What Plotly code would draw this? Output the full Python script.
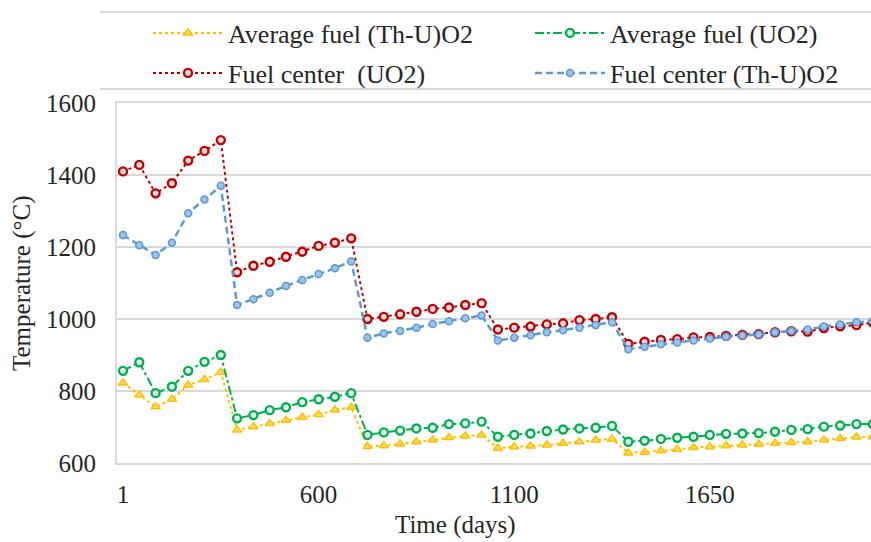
import plotly.graph_objects as go

# ---- data ----
step_index = list(range(47))
tick_positions = [0, 12, 24, 36]
tick_labels = ["1", "600", "1100", "1650"]

avg_thu = [822, 789, 756, 777, 817, 832, 852,
           692, 701, 710, 719, 727, 735, 747, 755,
           646, 648, 653, 659, 664, 671, 675, 678,
           641, 645, 647, 650, 655, 659, 664, 667,
           628, 630, 634, 638, 643, 645, 648, 650, 652, 655, 657, 659, 664, 668, 672, 673]
avg_uo2 = [856, 880, 794, 812, 856, 881, 900,
           724, 733, 747, 755, 769, 777, 784, 794,
           678, 685, 690, 696, 698, 708, 710, 715,
           673, 678, 682, 689, 693, 696, 698, 703,
           659, 662, 667, 670, 673, 678, 681, 682, 683, 687, 692, 694, 701, 704, 708, 708]
center_uo2 = [1410, 1428, 1349, 1377, 1440, 1467, 1497,
              1130, 1148, 1159, 1173, 1187, 1203, 1212, 1224,
              1000, 1006, 1013, 1020, 1028, 1032, 1039, 1044,
              971, 976, 979, 985, 988, 997, 1000, 1005,
              931, 937, 942, 944, 949, 950, 953, 956, 958, 963, 966, 965, 975, 980, 983, 990]
center_thu = [1233, 1205, 1178, 1212, 1294, 1332, 1370,
              1039, 1055, 1073, 1092, 1108, 1125, 1141, 1160,
              948, 960, 967, 976, 986, 994, 1002, 1010,
              940, 948, 955, 963, 969, 976, 983, 991,
              916, 923, 930, 935, 940, 946, 951, 954, 957, 963, 967, 971, 979, 985, 991, 994]

FONT = "Liberation Serif"
TXT = "#262626"
GRID = "#D9D9D9"

fig = go.Figure()
fig.add_trace(go.Scatter(
    x=step_index, y=avg_thu, mode="lines+markers", name="Average fuel (Th-U)O2",
    line=dict(color="#FFC000", width=2, dash="dot"),
    marker=dict(symbol="triangle-up", size=8, color="#FFD966", line=dict(color="#FFC000", width=1.5)),
    legend="legend"))
fig.add_trace(go.Scatter(
    x=step_index, y=avg_uo2, mode="lines+markers", name="Average fuel (UO2)",
    line=dict(color="#00B050", width=2, dash="dashdot"),
    marker=dict(symbol="circle", size=8, color="#E8F7EE", line=dict(color="#00B050", width=2.4)),
    legend="legend2"))
fig.add_trace(go.Scatter(
    x=step_index, y=center_uo2, mode="lines+markers", name="Fuel center  (UO2)",
    line=dict(color="#C00000", width=2, dash="dot"),
    marker=dict(symbol="circle", size=8, color="#F6DADA", line=dict(color="#C00000", width=2.4)),
    legend="legend3"))
fig.add_trace(go.Scatter(
    x=step_index, y=center_thu, mode="lines+markers", name="Fuel center (Th-U)O2",
    line=dict(color="#5B9BD5", width=2.5, dash="7px,4px"),
    marker=dict(symbol="circle", size=7, color="#9DC3E6", line=dict(color="#5B9BD5", width=1.5)),
    legend="legend4"))

W, H = 871, 542
L, R, T, B = 117, 0, 103, 79
pw, ph = W - L - R, H - T - B


def px_x(p):
    return (p - L) / pw


def px_y(p):
    return (H - B - p) / ph


spacing = 16.3
x0 = -(123 - L) / spacing
x1 = x0 + pw / spacing

leg_common = dict(orientation="h", font=dict(family=FONT, size=26, color=TXT),
                  itemwidth=70, bgcolor="rgba(0,0,0,0)",
                  xanchor="left", yanchor="middle")

fig.update_layout(
    width=W, height=H,
    margin=dict(l=L, r=R, t=T, b=B, pad=0),
    paper_bgcolor="white", plot_bgcolor="white",
    font=dict(family=FONT, size=25, color=TXT),
    showlegend=True,
    legend=dict(x=px_x(148), y=px_y(33), **leg_common),
    legend2=dict(x=px_x(530), y=px_y(33), **leg_common),
    legend3=dict(x=px_x(148), y=px_y(73), **leg_common),
    legend4=dict(x=px_x(530), y=px_y(73), **leg_common),
    xaxis=dict(range=[x0, x1], tickmode="array", tickvals=tick_positions, ticktext=tick_labels,
               showgrid=False, zeroline=False, showline=True, linecolor=GRID, linewidth=2,
               mirror=True, ticks="", ticklabelstandoff=8,
               tickfont=dict(family=FONT, size=25, color=TXT)),
    yaxis=dict(range=[600, 1600], tickvals=[600, 800, 1000, 1200, 1400, 1600],
               showgrid=True, gridcolor=GRID, gridwidth=2, zeroline=False,
               showline=True, linecolor=GRID, linewidth=2, ticks="", ticklabelstandoff=14,
               tickfont=dict(family=FONT, size=25, color=TXT)),
    shapes=[
        dict(type="line", xref="paper", yref="paper", x0=px_x(100), x1=1.05,
             y0=px_y(12), y1=px_y(12), line=dict(color=GRID, width=2)),
        dict(type="line", xref="paper", yref="paper", x0=px_x(100), x1=1.05,
             y0=px_y(89), y1=px_y(89), line=dict(color=GRID, width=2)),
    ],
    annotations=[
        dict(text="Time (days)", xref="paper", yref="paper", x=px_x(455), y=px_y(525),
             showarrow=False, xanchor="center", yanchor="middle",
             font=dict(family=FONT, size=25, color=TXT)),
        dict(text="Temperature (°C)", xref="paper", yref="paper", x=px_x(22), y=px_y(283),
             showarrow=False, xanchor="center", yanchor="middle", textangle=-90,
             font=dict(family=FONT, size=25, color=TXT)),
    ],
)

fig.write_html("out.html")
